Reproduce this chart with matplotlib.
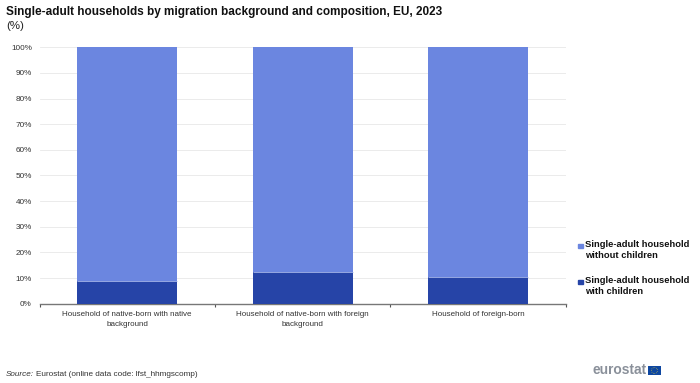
import matplotlib
matplotlib.use('Agg')
import matplotlib.pyplot as plt
from matplotlib.patches import Rectangle, Circle
import numpy as np

plt.rcParams['font.family'] = ['Liberation Sans', 'DejaVu Sans']

categories = ['Household of native-born with native\nbackground',
              'Household of native-born with foreign\nbackground',
              'Household of foreign-born']
with_children = [8.7, 12.2, 10.6]
without_children = [91.3, 87.8, 89.4]
y_ticks = list(range(0, 101, 10))

COLOR_WITH = '#2644a7'
COLOR_WITHOUT = '#6b86e0'

W, H = 700, 383
fig = plt.figure(figsize=(W / 100, H / 100), dpi=100)
ax = fig.add_axes([39.5 / W, 1 - 303.7 / H, (565.8 - 39.5) / W, (303.7 - 47.2) / H])

x = np.arange(len(categories))
ax.bar(x, with_children, width=0.57, color=COLOR_WITH, zorder=3)
ax.bar(x, without_children, width=0.57, bottom=with_children, color=COLOR_WITHOUT,
       edgecolor='none', zorder=3)
# thin light line between the two stacked parts
ax.hlines(with_children, x - 0.285, x + 0.285, color='#a9b8ec', lw=0.6, zorder=4)

ax.set_xlim(-0.5, 2.5)
ax.set_ylim(0, 100)
ax.set_yticks(y_ticks)
ax.set_yticklabels([f'{v}%' for v in y_ticks], fontsize=5.9, color='#333333')
ax.set_xticks([-0.5, 0.5, 1.5, 2.5])
ax.set_xticklabels([])
ax.set_xticks(x, minor=True)
ax.set_xticklabels(categories, minor=True, fontsize=5.8, color='#333333', linespacing=1.5)
ax.tick_params(axis='x', which='major', length=2.5, width=0.8, color='#555555')
ax.tick_params(axis='x', which='minor', length=0, pad=5.5)
ax.tick_params(axis='y', length=0, pad=5.5)
ax.grid(axis='y', color='#e8e8e8', lw=0.6, zorder=0)
ax.set_axisbelow(True)
for side in ['top', 'right', 'left']:
    ax.spines[side].set_visible(False)
ax.spines['bottom'].set_color('#777777')
ax.spines['bottom'].set_linewidth(1.0)

def px(xp, yp):
    return xp / W, 1 - yp / H

fig.text(*px(6.5, 12.5), 'Single-adult households by migration background and composition, EU, 2023',
         fontsize=8.48, fontweight='bold', color='#111111', va='center')
fig.text(*px(6.5, 26), '(%)', fontsize=8.2, color='#222222', va='center')

# legend
legend_labels = ['Single-adult household\nwithout children', 'Single-adult household\nwith children']
legend_colors = [COLOR_WITHOUT, COLOR_WITH]
legend_y = [250, 286]
for label, color, yp in zip(legend_labels, legend_colors, legend_y):
    fig.patches.append(Rectangle(px(578, yp - 2), 4.5 / W, 4.5 / H, color=color,
                                 transform=fig.transFigure))
    fig.text(*px(585, yp), label, fontsize=6.75, fontweight='bold', color='#111111',
             va='center', linespacing=1.2)

fig.text(*px(6, 374), 'Source:', fontsize=5.85, style='italic', color='#333333', va='center')
fig.text(*px(35.5, 374), 'Eurostat (online data code: lfst_hhmgscomp)', fontsize=5.85,
         color='#333333', va='center')

# logo
fig.text(*px(592.5, 370.5), 'eurostat', fontsize=9.9, fontweight='bold', color='#8a909a', va='center')
logo_ax = fig.add_axes([647.8 / W, 1 - 375 / H, 13.3 / W, 9 / H])
logo_ax.set_xlim(0, 13.3)
logo_ax.set_ylim(0, 9)
logo_ax.axis('off')
logo_ax.add_patch(Rectangle((0, 0), 13.3, 9, color='#0e47a1'))
logo_ax.add_patch(Circle((6.65, 4.5), 3, fill=False, ec='#d9c53a', lw=0.5, ls=(0, (1, 1.5))))

fig.savefig('out.png', dpi=100)
plt.close()
